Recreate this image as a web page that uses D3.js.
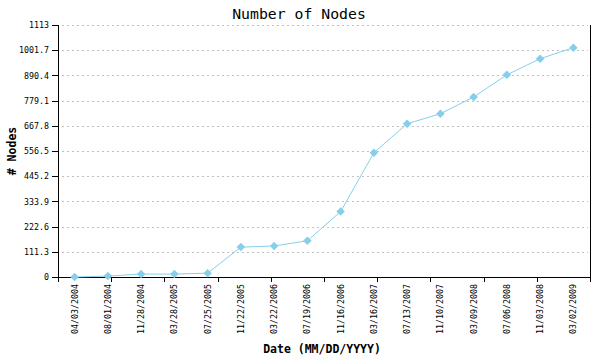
<!DOCTYPE html>
<html><head><meta charset="utf-8">
<script src="https://cdn.jsdelivr.net/npm/d3@7"></script>
<style>
body{margin:0;background:#fff;}
text{font-family:"DejaVu Sans Mono",monospace;fill:#000;}
</style></head>
<body><svg id="c" width="600" height="360"></svg>
<script>
const dates = ["04/03/2004","08/01/2004","11/28/2004","03/28/2005","07/25/2005","11/22/2005","03/22/2006","07/19/2006","11/16/2006","03/16/2007","07/13/2007","11/10/2007","03/09/2008","07/06/2008","11/03/2008","03/02/2009"];
const nodes = [0, 4, 13, 13, 17, 132, 137, 160, 289, 549, 677, 721, 795, 893, 964, 1013];
const yTickValues = [0, 111.3, 222.6, 333.9, 445.2, 556.5, 667.8, 779.1, 890.4, 1001.7, 1113];
const yTickLabels = ["0","111.3","222.6","333.9","445.2","556.5","667.8","779.1","890.4","1001.7","1113"];
const xMajorTicks = [0,1,2,3,4,5,6,7,8,9,10];

const svg = d3.select("#c");
const L = 58, R = 590, T = 25, B = 277;
const x = d3.scaleBand().domain(dates).range([L, R]).padding(0);
const xt = d3.scaleLinear().domain([0, 10]).range([L, R]);
const y = d3.scaleLinear().domain([0, 1113]).range([B, T]);

// grid
svg.append("g").selectAll("line").data(yTickValues.slice(1)).join("line")
  .attr("x1", L + 4).attr("x2", R - 2)
  .attr("y1", d => Math.round(y(d)) + 0.5).attr("y2", d => Math.round(y(d)) + 0.5)
  .attr("stroke", "#c0c0c0").attr("stroke-dasharray", "2,3").attr("shape-rendering", "crispEdges");

// y axis
const ya = d3.axisLeft(y).tickValues(yTickValues).tickFormat((d, i) => yTickLabels[i]).tickSize(6).tickPadding(3);
const gy = svg.append("g").attr("transform", `translate(${L},0)`).call(ya);
gy.select(".domain").remove();
gy.selectAll(".tick line").attr("stroke", "#000").attr("shape-rendering", "crispEdges");
gy.selectAll(".tick text").style("font-size", "8.3px").style("font-family", "'DejaVu Sans Mono',monospace");
svg.append("line").attr("x1", L + 0.5).attr("x2", L + 0.5).attr("y1", T).attr("y2", B + 5)
  .attr("stroke", "#000").attr("shape-rendering", "crispEdges");
svg.append("line").attr("x1", R + 0.5).attr("x2", R + 0.5).attr("y1", T).attr("y2", B + 5)
  .attr("stroke", "#000").attr("shape-rendering", "crispEdges");

// x axis tick marks
const xa = d3.axisBottom(xt).tickValues(xMajorTicks).tickFormat("").tickSize(5).tickSizeOuter(0);
const gx = svg.append("g").attr("transform", `translate(0,${B})`).call(xa);
gx.select(".domain").attr("stroke", "#000").attr("shape-rendering", "crispEdges");
gx.selectAll(".tick line").attr("stroke", "#000").attr("shape-rendering", "crispEdges");

// x labels
svg.append("g").selectAll("text").data(dates).join("text")
  .attr("transform", d => `translate(${x(d) + x.bandwidth() / 2 + 3},${B + 7}) rotate(-90)`)
  .attr("text-anchor", "end")
  .style("font-size", "8.3px")
  .text(d => d);

// line
const line = d3.line().x((d, i) => x(dates[i]) + x.bandwidth() / 2).y(d => y(d));
svg.append("path").datum(nodes).attr("d", line).attr("fill", "none").attr("stroke", "#87ceeb").attr("stroke-width", 1);

// markers
svg.append("g").selectAll("path").data(nodes).join("path")
  .attr("transform", (d, i) => `translate(${x(dates[i]) + x.bandwidth() / 2},${y(d)}) rotate(45)`)
  .attr("d", d3.symbol().type(d3.symbolSquare).size(36))
  .attr("fill", "#87ceeb");

// titles
svg.append("text").attr("x", 299).attr("y", 19).attr("text-anchor", "middle")
  .style("font-size", "14.8px").text("Number of Nodes");
svg.append("text").attr("x", 322).attr("y", 353).attr("text-anchor", "middle")
  .style("font-size", "11.5px").style("font-weight", "bold").text("Date (MM/DD/YYYY)");
svg.append("text").attr("transform", `translate(16,${(T + B) / 2}) rotate(-90)`).attr("text-anchor", "middle")
  .style("font-size", "11.5px").style("font-weight", "bold").text("# Nodes");
</script></body></html>
